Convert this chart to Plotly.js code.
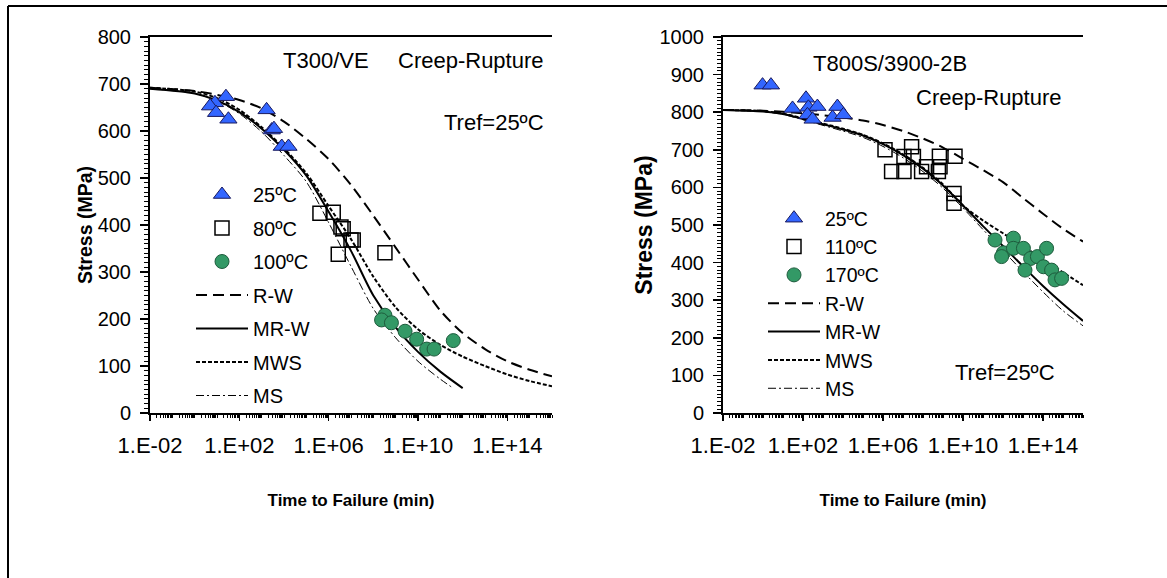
<!DOCTYPE html>
<html><head><meta charset="utf-8">
<script src="https://cdn.plot.ly/plotly-3.0.1.min.js"></script>
<style>html,body{margin:0;padding:0;background:#fff}#chart{width:1167px;height:578px}</style>
</head><body><div id="chart"></div>
<script>
// ---------- shared ----------
const xTickVals = [1e-2, 1e2, 1e6, 1e10, 1e14];
const xTickText = ['1.E-02', '1.E+02', '1.E+06', '1.E+10', '1.E+14'];
const seriesNames = ['R-W', 'MR-W', 'MWS', 'MS'];

// ---------- left panel: T300/VE ----------
const L_t25 = [25.1, 8.1, 4.9, 9.1, 32.4, 1660, 2818, 3548, 7943, 15849];
const L_s25 = [673, 660, 653, 639, 625, 645, 602, 605, 567, 567];
const L_t80 = [4.07e5, 1.6e6, 3.55e6, 4.47e6, 1.0e7, 1.26e7, 2.69e6, 3.31e8];
const L_s80 = [425, 427, 396, 392, 368, 368, 338, 341];
const L_t100 = [3.31e8, 2.34e8, 6.46e8, 2.63e9, 8.71e9, 2.45e10, 5.25e10, 3.8e11];
const L_s100 = [208, 198, 192, 174, 157, 136, 136, 154];

const L_tRW = [1e-2, 1, 1e1, 1e2, 1e3, 1e4, 1e5, 1e6, 1e7, 1e8, 1e9, 1e10, 1e11, 1e12, 1e13, 1e14, 1e15, 1e16];
const L_sRW = [692, 685, 677, 666, 648, 620, 583, 540, 485, 420, 352, 284, 218, 170, 136, 110, 92, 78];
const L_tMRW = [1e-2, 1, 1e1, 1e2, 1e3, 1e4, 1e5, 1e6, 1e7, 1e8, 1e9, 1e10, 1e11, 1e12];
const L_sMRW = [690, 680, 665, 640, 605, 560, 505, 428, 345, 250, 182, 130, 88, 53];
const L_tMWS = [1e-2, 1, 1e1, 1e2, 1e3, 1e4, 1e5, 1e6, 1e7, 1e8, 1e9, 1e10, 1e11, 1e12, 1e13, 1e14, 1e15, 1e16];
const L_sMWS = [692, 684, 670, 645, 608, 563, 510, 440, 370, 290, 225, 178, 145, 120, 100, 82, 68, 57];
const L_tMS = [1e-2, 1, 1e1, 1e2, 1e3, 1e4, 1e5, 1e6, 1e7, 1e8, 1e9, 1e10, 1e11, 4e11];
const L_sMS = [690, 680, 664, 637, 598, 548, 492, 405, 312, 222, 160, 110, 72, 52];

// ---------- right panel: T800S/3900-2B ----------
const R_t25 = [0.95, 2.5, 141, 30, 186, 525, 166, 302, 5248, 3020, 10471];
const R_s25 = [872, 872, 837, 810, 813, 815, 793, 781, 815, 786, 793];
const R_t110 = [1.26e6, 2.69e6, 1.12e7, 1.12e7, 2.69e7, 3.31e7, 8.51e7, 1.51e8, 6.61e8, 7.08e8, 3.98e9, 3.55e9, 3.55e9, 5.89e8];
const R_s110 = [700, 642, 682, 642, 708, 682, 642, 655, 683, 655, 683, 584, 558, 642];
const R_t170 = [3.98e11, 1.05e12, 8.51e11, 3.31e12, 3.31e12, 1.05e13, 2.4e13, 5.25e13, 1.51e14, 1.26e13, 1.05e14, 2.69e14, 3.98e14, 8.51e14];
const R_s170 = [460, 426, 416, 465, 438, 438, 411, 416, 438, 380, 389, 380, 354, 358];

const R_tC = [1e-2, 1, 1e1, 1e2, 1e3, 1e4, 1e5, 1e6, 1e7, 1e8, 1e9, 1e10, 1e11, 1e12, 1e13, 1e14, 1e15, 1e16];
const R_sRW = [806, 804, 801, 797, 792, 786, 778, 766, 750, 730, 706, 676, 646, 614, 572, 530, 490, 456];
const R_sMRW = [806, 802, 795, 782, 768, 754, 738, 715, 686, 650, 605, 552, 497, 444, 390, 338, 290, 245];
const R_sMWS = [806, 803, 796, 784, 770, 756, 740, 717, 688, 652, 608, 552, 512, 478, 444, 408, 374, 340];
const R_sMS = [806, 802, 794, 780, 765, 750, 733, 709, 679, 642, 598, 545, 488, 432, 376, 322, 272, 232];

// ---------- styles ----------
const FONT = 'Arial, "Liberation Sans", sans-serif';
const triMarker = {symbol: 'triangle-up', size: 15, color: '#3366ff', line: {color: '#1a1a5e', width: 1}};
const sqMarker = {symbol: 'square-open', size: 14, color: '#000000', line: {width: 1.5}};
const cirMarker = {symbol: 'circle', size: 14, color: '#339966', line: {color: '#1e5c3d', width: 1}};
const lineStyles = [
  {color: '#000', width: 2, dash: '11px,6px'},
  {color: '#000', width: 2, dash: 'solid'},
  {color: '#000', width: 2, dash: '4px,2px'},
  {color: '#000', width: 1, dash: '8px,3px,2px,3px'}
];

function pts(x, y, name, marker, xa, ya, leg, grp, rank) {
  return {type: 'scatter', mode: 'markers', x: x, y: y, name: name, marker: marker,
    xaxis: xa, yaxis: ya, legend: leg, legendgroup: grp, legendrank: rank, cliponaxis: false};
}
function crv(x, y, i, xa, ya, leg, grp, rank) {
  return {type: 'scatter', mode: 'lines', x: x, y: y, name: seriesNames[i],
    line: Object.assign({shape: 'spline', smoothing: 0.8}, lineStyles[i]),
    xaxis: xa, yaxis: ya, legend: leg, legendgroup: grp, legendrank: rank};
}

const data = [
  crv(L_tRW, L_sRW, 0, 'x', 'y', 'legend', 'l4', 4),
  crv(L_tMRW, L_sMRW, 1, 'x', 'y', 'legend', 'l5', 5),
  crv(L_tMWS, L_sMWS, 2, 'x', 'y', 'legend', 'l6', 6),
  crv(L_tMS, L_sMS, 3, 'x', 'y', 'legend', 'l7', 7),
  pts(L_t25, L_s25, '25ºC', triMarker, 'x', 'y', 'legend', 'l1', 1),
  pts(L_t80, L_s80, '80ºC', sqMarker, 'x', 'y', 'legend', 'l2', 2),
  pts(L_t100, L_s100, '100ºC', cirMarker, 'x', 'y', 'legend', 'l3', 3),
  crv(R_tC, R_sRW, 0, 'x2', 'y2', 'legend2', 'r4', 4),
  crv(R_tC, R_sMRW, 1, 'x2', 'y2', 'legend2', 'r5', 5),
  crv(R_tC, R_sMWS, 2, 'x2', 'y2', 'legend2', 'r6', 6),
  crv(R_tC, R_sMS, 3, 'x2', 'y2', 'legend2', 'r7', 7),
  pts(R_t25, R_s25, '25ºC', triMarker, 'x2', 'y2', 'legend2', 'r1', 1),
  pts(R_t110, R_s110, '110ºC', sqMarker, 'x2', 'y2', 'legend2', 'r2', 2),
  pts(R_t170, R_s170, '170ºC', cirMarker, 'x2', 'y2', 'legend2', 'r3', 3)
];

const W = 1167, H = 578;
const px = v => v / W, py = v => 1 - v / H;

function xAxis(domain) {
  return {type: 'log', range: [-2, 16], domain: domain, tickmode: 'array', tickvals: xTickVals, ticktext: xTickText,
    showline: true, linecolor: '#000', linewidth: 2, mirror: true, ticks: 'outside', ticklen: 6, tickwidth: 1.5, tickcolor: '#000',
    minor: {dtick: 'D1', ticks: 'outside', ticklen: 3, tickcolor: '#000', tickwidth: 1},
    showgrid: false, zeroline: false, automargin: false, ticklabelstandoff: 6,
    tickfont: {family: FONT, size: 22, color: '#000'},
    title: {text: 'Time to Failure (min)', standoff: 37, font: {family: FONT, size: 17, color: '#000', weight: 700}}};
}
function yAxis(domain, max, anchor, tsize, ttext) {
  return {range: [0, max], domain: domain, dtick: 100, anchor: anchor,
    showline: true, linecolor: '#000', linewidth: 2, mirror: false, ticks: 'outside', ticklen: 8, tickwidth: 1.5, tickcolor: '#000',
    minor: {dtick: 10, ticks: 'outside', ticklen: 4, tickcolor: '#000', tickwidth: 1},
    showgrid: false, zeroline: false, automargin: false, ticklabelstandoff: 5,
    tickfont: {family: FONT, size: 20, color: '#000'},
    title: {text: ttext, standoff: 0, font: {family: FONT, size: tsize, color: '#000', weight: 700}}};
}

const yDom = [py(413), py(37)];
const legendBase = {xref: 'paper', yref: 'paper', xanchor: 'left', yanchor: 'top', bgcolor: 'rgba(0,0,0,0)',
  itemwidth: 52, traceorder: 'grouped', itemclick: false, itemdoubleclick: false};

const ann = (text, x, y, xanchor) => ({text: text, x: px(x), y: py(y), xref: 'paper', yref: 'paper', showarrow: false,
  xanchor: xanchor || 'center', yanchor: 'middle', font: {family: FONT, size: 22, color: '#000'}});

const layout = {
  width: W, height: H, margin: {l: 0, r: 0, t: 0, b: 0}, paper_bgcolor: '#fff', plot_bgcolor: '#fff',
  showlegend: true,
  xaxis: xAxis([px(150), px(552)]),
  yaxis: yAxis(yDom, 800, 'x', 19.5, '\u00a0\u00a0Stress (MPa)'),
  xaxis2: Object.assign(xAxis([px(723), px(1083)]), {anchor: 'y2'}),
  yaxis2: yAxis(yDom, 1000, 'x2', 23, '\u00a0\u00a0\u00a0\u00a0\u00a0\u00a0Stress (MPa)'),
  legend: Object.assign({}, legendBase, {x: px(191), y: py(175), tracegroupgap: 4.5,
    font: {family: FONT, size: 20, color: '#000'}}),
  legend2: Object.assign({}, legendBase, {x: px(763), y: py(199), tracegroupgap: 0,
    font: {family: FONT, size: 19.5, color: '#000'}}),
  annotations: [
    ann('T300/VE', 326, 60), ann('Creep-Rupture', 471, 60), ann('Tref=25ºC', 546, 122, 'right'),
    ann('T800S/3900-2B', 890, 63), ann('Creep-Rupture', 989, 98), ann('Tref=25ºC', 1005, 372)
  ],
  shapes: [
    {type: 'line', xref: 'paper', yref: 'paper', x0: px(8), x1: 1, y0: py(6), y1: py(6), line: {color: '#000', width: 2}},
    {type: 'line', xref: 'paper', yref: 'paper', x0: px(8), x1: px(8), y0: py(6), y1: 0, line: {color: '#000', width: 2}}
  ]
};

Plotly.newPlot('chart', data, layout, {staticPlot: true, displayModeBar: false});
</script></body></html>
